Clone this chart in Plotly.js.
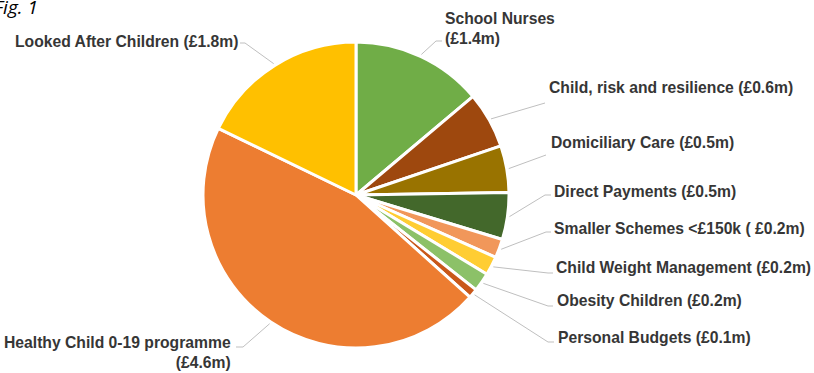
<!DOCTYPE html>
<html>
<head>
<meta charset="utf-8">
<script src="https://cdn.plot.ly/plotly-3.0.1.min.js"></script>
<style>html,body{margin:0;padding:0;background:#fff;}#chart{width:814px;height:373px;}</style>
</head>
<body>
<div id="chart"></div>
<script>
// ---- data ----
const categories = [
  "School Nurses",
  "Child, risk and resilience",
  "Domiciliary Care",
  "Direct Payments",
  "Smaller Schemes <£150k",
  "Child Weight Management",
  "Obesity Children",
  "Personal Budgets",
  "Healthy Child 0-19 programme",
  "Looked After Children"
];
const valuesM = [1.4, 0.6, 0.5, 0.5, 0.2, 0.2, 0.2, 0.1, 4.6, 1.8];
const labelTexts = [
  "School Nurses<br>(£1.4m)",
  "Child, risk and resilience (£0.6m)",
  "Domiciliary Care (£0.5m)",
  "Direct Payments (£0.5m)",
  "Smaller Schemes &lt;£150k ( £0.2m)",
  "Child Weight Management (£0.2m)",
  "Obesity Children (£0.2m)",
  "Personal Budgets (£0.1m)",
  "Healthy Child 0-19 programme<br>(£4.6m)",
  "Looked After Children (£1.8m)"
];
const sliceColors = ["#70AD47","#9E480E","#997300","#43682B","#F1975A","#FFCD33","#8CC168","#C9581A","#ED7D31","#FFC000"];

// ---- layout (pixel positions) ----
const W = 814, H = 373;
const CX = 356, CY = 195, R = 153;
// text anchor [x, y, xanchor, align]
const textPos = [
  [443, 28, "left", "left"],
  [547, 88, "left", "left"],
  [549, 142, "left", "left"],
  [552, 191, "left", "left"],
  [552, 228, "left", "left"],
  [554, 267, "left", "left"],
  [555, 300, "left", "left"],
  [556, 337, "left", "left"],
  [233, 352, "right", "right"],
  [240, 42, "right", "right"]
];
// leader line elbow and end [elbowX, elbowY, endX, endY]
const leaderPts = [
  [436, 41, 442, 41],
  [545, 103, 545, 103],
  [546, 155, 546, 155],
  [545, 195, 551, 195],
  [546, 232, 551, 232],
  [548, 273, 553, 273],
  [548, 306, 553, 306],
  [548, 342, 554, 342],
  [243, 347, 236, 347],
  [245, 43, 240, 43]
];

const px = x => x / W;
const py = y => 1 - y / H;

const total = valuesM.reduce((a, b) => a + b, 0);
let cum = 0;
const shapes = [];
const annotations = [];
valuesM.forEach((v, i) => {
  const mid = (cum + v / 2) / total * 2 * Math.PI;
  cum += v;
  const r0 = R + 2;
  const sx = CX + r0 * Math.sin(mid);
  const sy = CY - r0 * Math.cos(mid);
  const [ex, ey, fx, fy] = leaderPts[i];
  shapes.push({
    type: "path", xref: "paper", yref: "paper",
    path: `M ${px(sx)} ${py(sy)} L ${px(ex)} ${py(ey)} L ${px(fx)} ${py(fy)}`,
    line: {color: "#BFBFBF", width: 1}
  });
  const [tx, ty, xa, al] = textPos[i];
  annotations.push({
    xref: "paper", yref: "paper", x: px(tx), y: py(ty),
    xanchor: xa, yanchor: "middle", align: al, showarrow: false,
    text: "<b>" + labelTexts[i].split("<br>").join("</b><br><b>") + "</b>",
    font: {family: "Liberation Sans, Arial, sans-serif", size: 15.7, color: "#363636", weight: "bold"}
  });
});
annotations.push({
  xref: "paper", yref: "paper", x: px(-8), y: py(7),
  xanchor: "left", yanchor: "middle", showarrow: false,
  text: "Fig. 1",
  font: {family: "Open Sans, sans-serif", size: 19, color: "#000000", style: "italic"}
});

const trace = {
  type: "pie",
  labels: categories,
  values: valuesM,
  sort: false,
  direction: "clockwise",
  rotation: 0,
  textinfo: "none",
  hoverinfo: "label+value",
  marker: {colors: sliceColors, line: {color: "#FFFFFF", width: 3}},
  domain: {x: [px(CX - R), px(CX + R)], y: [py(CY + R), py(CY - R)]},
  showlegend: false
};

Plotly.newPlot("chart", [trace], {
  width: W, height: H,
  margin: {l: 0, r: 0, t: 0, b: 0},
  paper_bgcolor: "#FFFFFF",
  showlegend: false,
  shapes: shapes,
  annotations: annotations
}, {displayModeBar: false, staticPlot: true});
</script>
</body>
</html>
